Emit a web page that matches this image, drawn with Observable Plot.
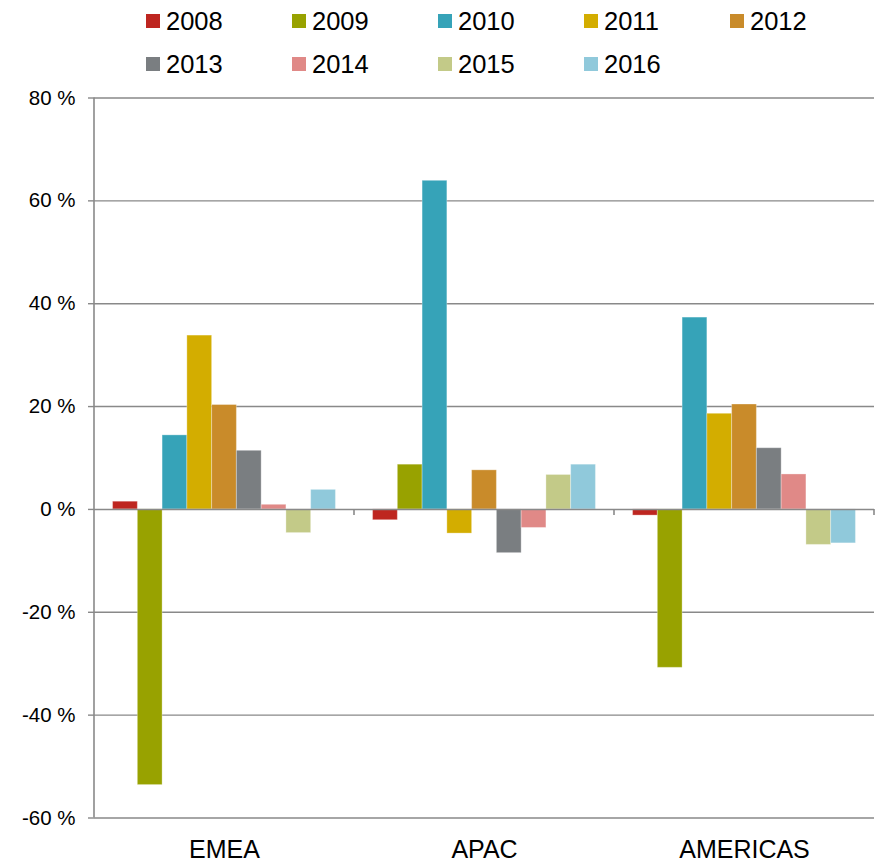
<!DOCTYPE html>
<html>
<head>
<meta charset="utf-8">
<script src="https://cdn.jsdelivr.net/npm/d3@7"></script>
<script src="https://cdn.jsdelivr.net/npm/@observablehq/plot@0.6"></script>
<style>
  html, body { margin: 0; padding: 0; background: #fff; }
  body { width: 877px; height: 862px; overflow: hidden; font-family: "Liberation Sans", Arial, sans-serif; }
  #legend { position: relative; width: 877px; height: 86px; }
  .item { position: absolute; height: 30px; display: flex; align-items: center; font-size: 25.5px; line-height: 30px; color: #000; }
  .sw { width: 14px; height: 14px; margin-right: 6px; }
</style>
</head>
<body>
<div id="legend"></div>
<div id="chart"></div>
<script>
const regions = ["EMEA", "APAC", "AMERICAS"];
const years = ["2008", "2009", "2010", "2011", "2012", "2013", "2014", "2015", "2016"];
const emea = [1.5, -53.6, 14.4, 33.8, 20.3, 11.4, 0.9, -4.6, 3.8];
const apac = [-2.1, 8.7, 63.9, -4.7, 7.6, -8.5, -3.6, 6.7, 8.7];
const americas = [-1.2, -30.8, 37.3, 18.6, 20.4, 11.9, 6.8, -6.9, -6.6];
const colors = ["#BE2620", "#98A200", "#36A3B8", "#D3AD00", "#C98B2A", "#7A7E81", "#E08987", "#C3CA88", "#90C9DB"];
const yTicks = [-60, -40, -20, 0, 20, 40, 60, 80];
const yTickLabels = ["-60 %", "-40 %", "-20 %", "0 %", "20 %", "40 %", "60 %", "80 %"];

const series = [emea, apac, americas];
const data = [];
regions.forEach((r, i) => years.forEach((yr, j) => data.push({region: r, year: yr, value: series[i][j]})));

// Legend (two rows, five per row)
const legend = document.getElementById("legend");
years.forEach((yr, k) => {
  const row = Math.floor(k / 5), col = k % 5;
  const it = document.createElement("div");
  it.className = "item";
  it.style.left = (146 + col * 146) + "px";
  it.style.top = (6 + row * 43) + "px";
  it.innerHTML = `<span class="sw" style="background:${colors[k]}"></span><span>${yr}</span>`;
  legend.appendChild(it);
});

const plot = Plot.plot({
  width: 877,
  height: 776,
  marginTop: 11.5,
  marginBottom: 44.5,
  marginLeft: 94,
  marginRight: 3,
  style: {fontFamily: "Liberation Sans, Arial, sans-serif", color: "#000", background: "#fff"},
  fx: {domain: regions, paddingInner: 0, paddingOuter: 0, round: false, label: null},
  x: {domain: years, paddingInner: 0, paddingOuter: 0.75, round: false, axis: null},
  y: {domain: [-60, 80], label: null},
  color: {domain: years, range: colors},
  marks: [
    Plot.ruleY(yTicks.filter(v => v !== 0), {stroke: "#898989", strokeWidth: 1.4}),
    Plot.rectY(data, {fx: "region", x: "year", y: "value", fill: "year", stroke: "#fff", strokeOpacity: 0.3, strokeWidth: 1}),
    Plot.ruleY([0], {stroke: "#898989", strokeWidth: 1.6}),
    Plot.axisY({ticks: yTicks, tickFormat: (d) => yTickLabels[yTicks.indexOf(d)], tickSize: 6, tickPadding: 13, fontSize: 20.5, stroke: "#898989", strokeWidth: 1.4, label: null, fill: "#000"}),
    Plot.axisFx({anchor: "bottom", tickSize: 0, tickPadding: 22, fontSize: 25, label: null, fill: "#000"})
  ]
});
document.getElementById("chart").appendChild(plot);

// Axis line and category boundary ticks, placed with Plot's own scales
const fxs = plot.scale("fx"), ys = plot.scale("y");
const svg = d3.select(plot);
const g = svg.append("g").attr("stroke", "#898989").attr("stroke-width", 1.6);
g.append("line")
  .attr("x1", fxs.range[0]).attr("x2", fxs.range[0])
  .attr("y1", ys.apply(-60)).attr("y2", ys.apply(80));
regions.forEach(r => {
  const xe = fxs.apply(r) + fxs.bandwidth;
  g.append("line").attr("x1", xe).attr("x2", xe)
    .attr("y1", ys.apply(0)).attr("y2", ys.apply(0) + 6);
});
</script>
</body>
</html>
